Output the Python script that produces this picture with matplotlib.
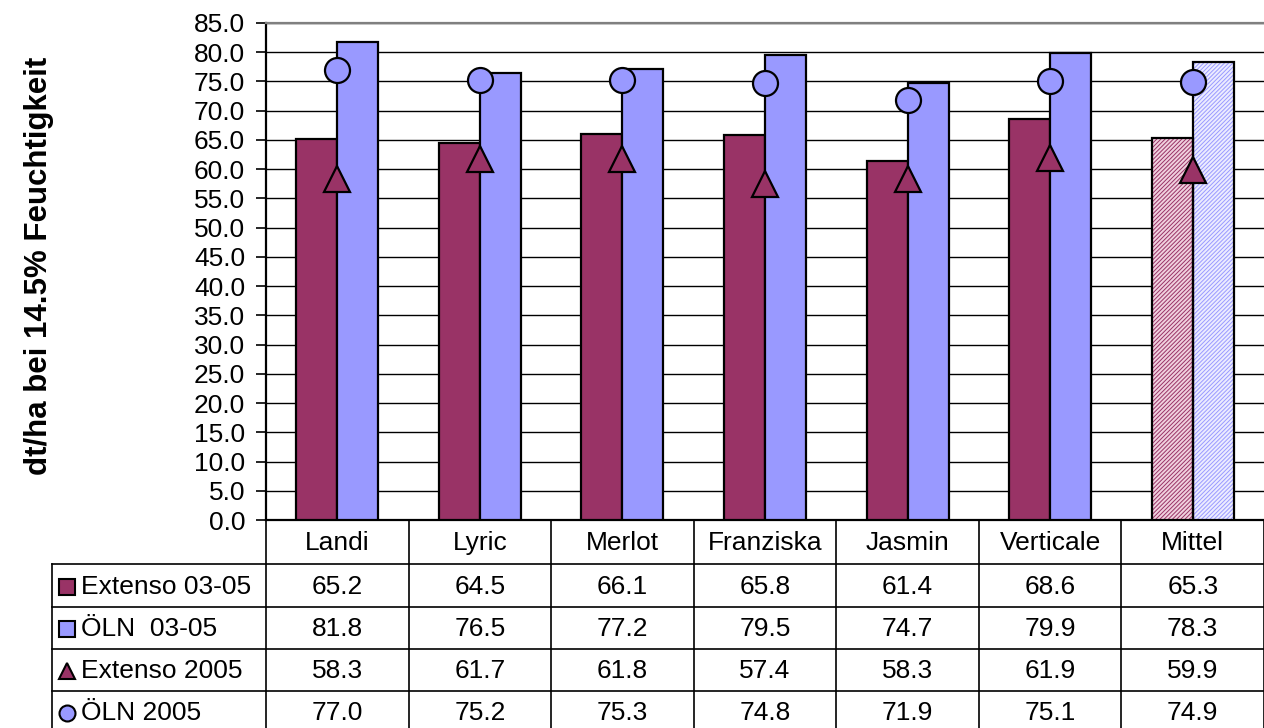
import matplotlib
matplotlib.use('Agg')
import matplotlib.pyplot as plt
import numpy as np

plt.rcParams['font.family'] = ['Liberation Sans', 'DejaVu Sans']
plt.rcParams['hatch.linewidth'] = 0.7

# data
sorten = ['Landi', 'Lyric', 'Merlot', 'Franziska', 'Jasmin', 'Verticale', 'Mittel']
extenso_0305 = [65.2, 64.5, 66.1, 65.8, 61.4, 68.6, 65.3]
oeln_0305 = [81.8, 76.5, 77.2, 79.5, 74.7, 79.9, 78.3]
extenso_2005 = [58.3, 61.7, 61.8, 57.4, 58.3, 61.9, 59.9]
oeln_2005 = [77.0, 75.2, 75.3, 74.8, 71.9, 75.1, 74.9]
series_names = ['Extenso 03-05', 'ÖLN  03-05', 'Extenso 2005', 'ÖLN 2005']

maroon = '#993366'
blue = '#9999FF'
fs = 19

fig = plt.figure(figsize=(12.64, 7.28), dpi=100)
W, H = 1264, 728
ax = fig.add_axes([266 / W, 1 - 520 / H, 998 / W, 497 / H])

x = np.arange(len(sorten))
bw = 0.288
normal = slice(0, 6)
# normal bars
ax.bar(x[normal] - bw / 2, extenso_0305[normal], bw, color=maroon, edgecolor='black', linewidth=1.6, zorder=3)
ax.bar(x[normal] + bw / 2, oeln_0305[normal], bw, color=blue, edgecolor='black', linewidth=1.6, zorder=3)
# Mittel: hatched
ax.bar(x[6] - bw / 2, extenso_0305[6], bw, facecolor='#f0d0de', edgecolor=maroon, hatch='////////', linewidth=0, zorder=3)
ax.bar(x[6] + bw / 2, oeln_0305[6], bw, facecolor='#ececff', edgecolor=blue, hatch='////////', linewidth=0, zorder=3)
ax.bar(x[6] - bw / 2, extenso_0305[6], bw, fill=False, edgecolor='black', linewidth=1.6, zorder=3)
ax.bar(x[6] + bw / 2, oeln_0305[6], bw, fill=False, edgecolor='black', linewidth=1.6, zorder=3)

ax.plot(x, extenso_2005, linestyle='none', marker='^', markersize=19, markerfacecolor=maroon,
        markeredgecolor='black', markeredgewidth=1.6, zorder=5, clip_on=False)
ax.plot(x, oeln_2005, linestyle='none', marker='o', markersize=18, markerfacecolor=blue,
        markeredgecolor='black', markeredgewidth=1.6, zorder=5, clip_on=False)

ax.set_xlim(-0.5, 6.5)
ax.set_ylim(0, 85)
ax.set_yticks(np.arange(0, 85.1, 5))
ax.set_yticklabels([f'{v:.1f}' for v in np.arange(0, 85.1, 5)], fontsize=fs)
ax.tick_params(axis='y', length=7, width=1.2, pad=8)
ax.set_xticks([])
ax.yaxis.grid(True, color='black', linewidth=1.0, zorder=0)
ax.set_axisbelow(True)
ax.spines['left'].set_linewidth(1.6)
ax.spines['bottom'].set_linewidth(1.6)
ax.spines['top'].set_color('#808080')
ax.spines['top'].set_linewidth(1.6)
ax.spines['right'].set_visible(False)

fig.text(39 / W, 1 - 266 / H, 'dt/ha bei 14.5% Feuchtigkeit', rotation=90, fontsize=22.5,
         fontweight='bold', ha='center', va='center')

# data table below
tx = fig.add_axes([266 / W, 0, 998 / W, 208 / H])
tx.set_xlim(-0.5, 6.5)
tx.set_ylim(728, 520)
tx.axis('off')
rows = [520, 564, 607, 649, 691, 733]
left = -0.5 - 214 / 142.57
lk = dict(color='black', linewidth=1.2, clip_on=False)
for i in range(len(sorten) + 1):
    tx.plot([i - 0.5, i - 0.5], [rows[0], rows[-1]], **lk)
for r in rows[1:-1]:
    tx.plot([left, 6.5], [r, r], **lk)
tx.plot([left, left], [rows[1], rows[-1]], **lk)

for i, s in enumerate(sorten):
    tx.text(i, (rows[0] + rows[1]) / 2 + 1, s, ha='center', va='center', fontsize=fs)

table_vals = [extenso_0305, oeln_0305, extenso_2005, oeln_2005]
markers = ['s', 's', '^', 'o']
mcolors = [maroon, blue, maroon, blue]
for j, vals in enumerate(table_vals):
    yc = (rows[j + 1] + rows[j + 2]) / 2 + 1
    for i, v in enumerate(vals):
        tx.text(i, yc, f'{v:.1f}', ha='center', va='center', fontsize=fs)
    tx.plot([left + 15 / 142.57], [yc], marker=markers[j], markersize=11.5, markerfacecolor=mcolors[j],
            markeredgecolor='black', markeredgewidth=1.5, linestyle='none', clip_on=False)
    tx.text(left + 29 / 142.57, yc, series_names[j], ha='left', va='center', fontsize=fs)

fig.savefig('out.png', dpi=100)
